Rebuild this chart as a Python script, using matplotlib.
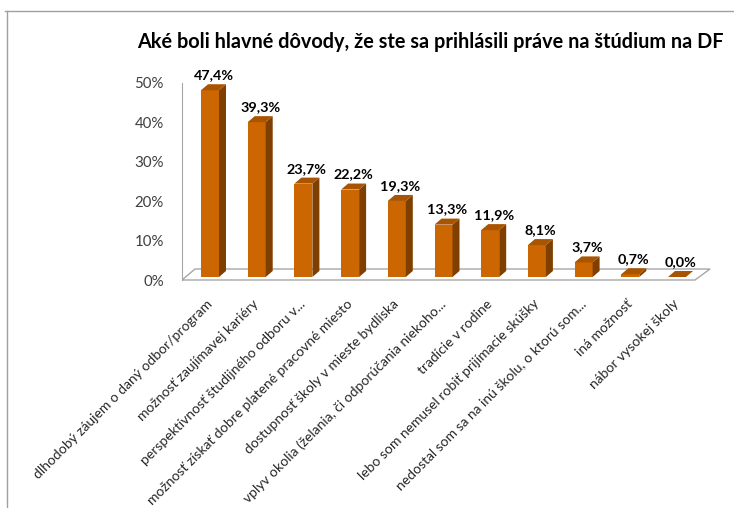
import matplotlib.pyplot as plt
from matplotlib.patches import Polygon
from matplotlib.lines import Line2D

plt.rcParams['font.family'] = ['Lato', 'DejaVu Sans']

nadpis = 'Aké boli hlavné dôvody, že ste sa prihlásili práve na štúdium na DF'
dovody = [
    'dlhodobý záujem o daný odbor/program',
    'možnosť zaujímavej kariéry',
    'perspektívnosť študijného odboru v...',
    'možnosť získať dobre platené pracovné miesto',
    'dostupnosť školy v mieste bydliska',
    'vplyv okolia (želania, či odporúčania niekoho...',
    'tradície v rodine',
    'lebo som nemusel robiť prijímacie skúšky',
    'nedostal som sa na inú školu, o ktorú som...',
    'iná možnosť',
    'nábor vysokej školy',
]
podiely = [47.4, 39.3, 23.7, 22.2, 19.3, 13.3, 11.9, 8.1, 3.7, 0.7, 0.0]
y_ticky = [0, 10, 20, 30, 40, 50]

# farby stlpcov (predna strana, bok, vrch)
c_front = '#CC6600'
c_side = '#7F3F00'
c_top = '#A85400'

W, H = 734, 508
fig = plt.figure(figsize=(W / 100, H / 100), dpi=100)
fig.patch.set_facecolor('white')

# ramik grafu
fig.add_artist(Line2D([5 / W, 1], [1 - 11 / H, 1 - 11 / H], color='#A0A0A0', lw=1))
fig.add_artist(Line2D([7 / W, 7 / W], [0, 1 - 11 / H], color='#A0A0A0', lw=1))

# os: pixely -> data
x0, kx = 210, 46.7      # stred prveho stlpca, krok
y0, ky = 280, 3.94      # 0 % a px na 1 %
L, R, T, B = 182, 725, 50, 288
ax = fig.add_axes([L / W, 1 - B / H, (R - L) / W, (B - T) / H])
ax.set_xlim((L - x0) / kx, (R - x0) / kx)
ax.set_ylim((y0 - B) / ky, (y0 - T) / ky)

bw = 18 / kx / 2        # polovica sirky stlpca
dx, dy = 7 / kx, 6 / ky  # hlbka stlpca
base = 3 / ky           # stlpce stoja kusok za prednou hranou podlahy

# podlaha
fx, fdy = (182 - x0) / kx, 11 / ky
fr = (695 - x0) / kx
podlaha = Polygon([(fx, 0), (fr, 0), (fr + 15 / kx, fdy), (fx + 13 / kx, fdy)],
                  closed=True, facecolor='white', edgecolor='#A6A6A6', lw=1, zorder=1)
ax.add_patch(podlaha)

for i, v in enumerate(podiely):
    xl, xr = i - bw, i + bw
    yt = base + v
    ax.add_patch(Polygon([(xl, base), (xr, base), (xr, yt), (xl, yt)],
                         facecolor=c_front, lw=0, zorder=3))
    ax.add_patch(Polygon([(xr, base), (xr + dx, base + dy), (xr + dx, yt + dy), (xr, yt)],
                         facecolor=c_side, lw=0, zorder=3))
    ax.add_patch(Polygon([(xl, yt), (xr, yt), (xr + dx, yt + dy), (xl + dx, yt + dy)],
                         facecolor=c_top, lw=0, zorder=3))
    ax.annotate(f'{v:.1f}%'.replace('.', ','), (i + dx / 2, yt + dy),
                xytext=(0, 6.5), textcoords='offset points', ha='center', va='center',
                fontsize=10.4, fontweight='bold', color='black')

for s in ['top', 'right', 'bottom']:
    ax.spines[s].set_visible(False)
ax.spines['left'].set_color('#A6A6A6')
ax.spines['left'].set_bounds(0, 50)
ax.set_facecolor('none')

ax.set_yticks(y_ticky)
ax.set_yticklabels([f'{t}%' for t in y_ticky], fontsize=10.8, color='#404040')
ax.tick_params(axis='y', length=0, pad=13)

ax.set_xticks(range(len(dovody)))
ax.set_xticklabels(dovody, rotation=45, ha='right', va='center',
                   rotation_mode='anchor', fontsize=10.0, color='#262626')
ax.tick_params(axis='x', length=0, pad=10)

fig.text(430 / W, 1 - 42 / H, nadpis, ha='center', va='center',
         fontsize=14.3, fontweight='bold', color='black')

fig.savefig('out.png', dpi=100)
